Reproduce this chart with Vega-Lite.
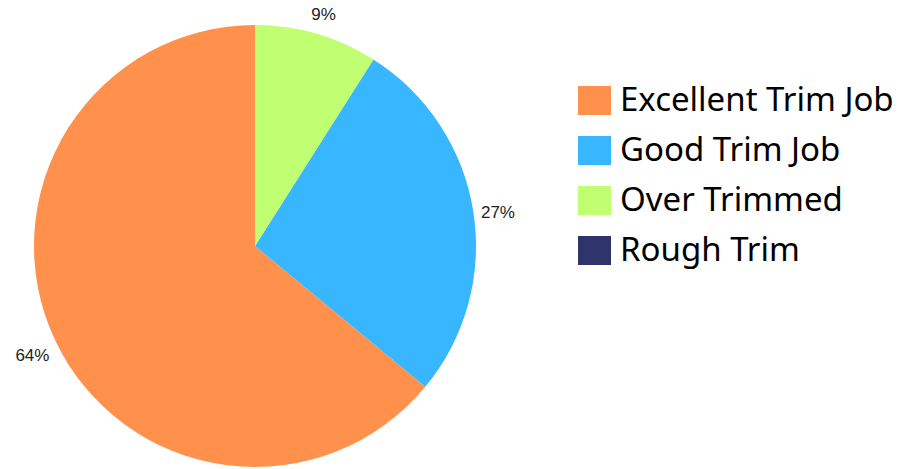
{
  "$schema": "https://vega.github.io/schema/vega-lite/v6.json",
  "width": 510,
  "height": 492,
  "padding": 0,
  "autosize": {"type": "pad"},
  "background": "white",
  "view": {"stroke": null},
  "data": {
    "values": [
      {"category": "Excellent Trim Job", "value": 64, "order": 3, "label": "64%"},
      {"category": "Good Trim Job", "value": 27, "order": 2, "label": "27%"},
      {"category": "Over Trimmed", "value": 9, "order": 1, "label": "9%"},
      {"category": "Rough Trim", "value": 0, "order": 4, "label": ""}
    ]
  },
  "encoding": {
    "theta": {"field": "value", "type": "quantitative", "stack": true},
    "order": {"field": "order", "type": "quantitative"},
    "color": {
      "field": "category",
      "type": "nominal",
      "scale": {
        "domain": ["Excellent Trim Job", "Good Trim Job", "Over Trimmed", "Rough Trim"],
        "range": ["#FF914D", "#38B6FF", "#C1FF72", "#2F346B"]
      },
      "legend": {
        "title": null,
        "orient": "none",
        "legendX": 578,
        "legendY": 84,
        "padding": 0,
        "symbolType": "M-1,-0.88H1V0.88H-1Z",
        "symbolSize": 1089,
        "symbolStrokeWidth": 0,
        "symbolOpacity": 1,
        "labelFont": "Noto Sans",
        "labelFontSize": 33,
        "labelColor": "#000000",
        "labelOffset": 9,
        "rowPadding": 16,
        "labelLimit": 400
      }
    }
  },
  "layer": [
    {"mark": {"type": "arc", "radius": 221, "stroke": null}},
    {
      "transform": [{"filter": "datum.value > 0"}],
      "mark": {"type": "text", "radius": 246, "dy": 5, "font": "Liberation Sans", "fontSize": 17, "color": "#222222"},
      "encoding": {"text": {"field": "label", "type": "nominal"}, "color": {"value": "#222222"}}
    }
  ]
}
